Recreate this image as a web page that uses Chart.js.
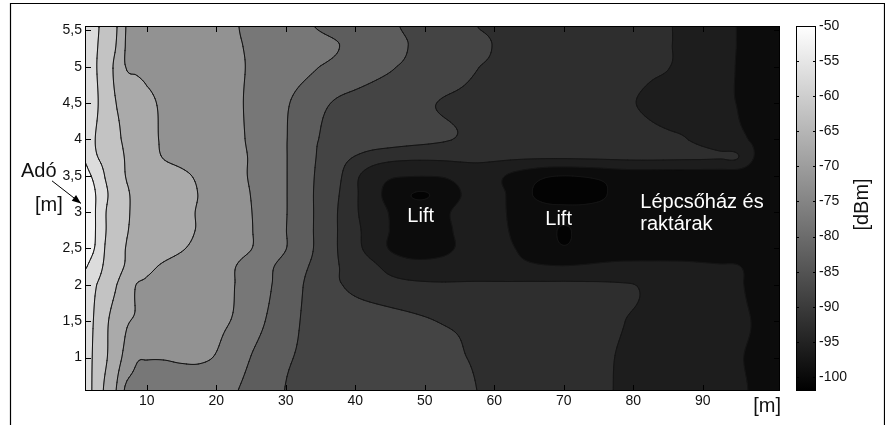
<!DOCTYPE html>
<html><head><meta charset="utf-8">
<script src="https://cdn.jsdelivr.net/npm/chart.js@4.4.0/dist/chart.umd.min.js"></script>
<style>html,body{margin:0;padding:0;background:#fff;}canvas{display:block;}</style>
</head><body>
<canvas id="c" width="885" height="425"></canvas>
<script>
// ---------- DATA ----------
// grid x positions [m] and y positions [m]
const xs = [1, 2.5, 4, 5.5, 7, 8.5, 10, 12.5, 15, 17.5, 20, 22.5, 25, 27.5, 30, 32.5, 35, 37.5, 40, 42.5, 45, 47.5, 50, 52.5, 55, 57.5, 60, 62.5, 65, 67.5, 70, 72.5, 75, 77.5, 80, 82.5, 85, 87.5, 90, 92.5, 95, 97.5, 101];
const ys = [0.54, 1, 1.5, 2, 2.25, 2.5, 2.75, 3, 3.25, 3.5, 3.75, 4, 4.5, 5, 5.3, 5.56];
// received power [dBm], one row per y
const r054 = [-52.5,-56.2,-60.8,-64.7,-70.8,-71.2,-71.5,-72.0,-72.5,-73.2,-73.9,-74.7,-76.2,-78.3,-80.1,-80.5,-81.0,-81.4,-81.9,-82.3,-82.8,-83.2,-83.7,-84.1,-84.6,-85.0,-85.6,-86.3,-86.9,-87.6,-88.2,-88.8,-89.5,-90.1,-90.8,-91.4,-92.1,-92.7,-93.3,-94.0,-94.6,-95.3,-96.2];
const r100 = [-52.5,-55.9,-59.3,-62.7,-66.5,-69.5,-69.8,-69.8,-69.5,-69.4,-70.3,-72.6,-75.1,-77.3,-79.5,-80.4,-80.9,-81.4,-81.8,-82.3,-82.8,-83.3,-83.8,-84.3,-84.8,-85.3,-85.9,-86.5,-87.1,-87.7,-88.3,-88.8,-89.4,-90.05,-90.7,-91.4,-92.1,-92.8,-93.4,-94.1,-94.8,-95.4,-96.5];
const r150 = [-52.0,-55.5,-59.0,-61.9,-64.5,-65.4,-65.9,-66.7,-67.6,-68.4,-69.3,-70.3,-72.9,-75.5,-78.1,-80.3,-80.8,-81.4,-82.1,-82.7,-83.4,-84.0,-84.6,-85.2,-85.6,-86.1,-86.5,-87.0,-87.5,-87.9,-88.4,-88.8,-89.3,-89.7,-90.3,-91.0,-91.7,-92.4,-93.1,-93.8,-94.5,-95.2,-96.5];
const r200 = [-51.5,-54.5,-57.1,-59.7,-62.5,-65.1,-65.6,-66.5,-67.4,-68.2,-69.1,-69.9,-72.2,-74.5,-77.2,-80.0,-82.3,-84.5,-86.2,-87.4,-88.2,-88.8,-89.2,-89.4,-89.4,-89.4,-89.4,-89.3,-89.2,-89.2,-89.2,-89.3,-89.4,-89.6,-89.9,-90.8,-91.6,-92.4,-93.1,-93.9,-94.6,-95.8,-97.0];
const r225 = [-49.5,-52.2,-55.8,-58.3,-60.4,-62.2,-64.0,-65.6,-66.7,-67.7,-68.7,-69.8,-71.8,-74.2,-76.7,-79.3,-81.7,-84.8,-86.9,-89.0,-91.5,-93.0,-93.3,-93.0,-92.5,-92.2,-92.5,-93.5,-94.2,-94.6,-94.7,-94.5,-94.2,-94.0,-94.0,-94.1,-94.2,-94.3,-94.5,-94.7,-94.8,-96.3,-97.5];
const r250 = [-48.0,-50.1,-55.2,-57.7,-60.1,-60.9,-61.8,-63.3,-64.7,-66.0,-67.3,-68.6,-69.9,-72.4,-74.9,-78.1,-81.4,-85.1,-88.6,-92.0,-95.3,-96.8,-97.0,-96.2,-94.5,-93.5,-93.6,-94.7,-96.3,-98.0,-99.6,-98.3,-97.3,-96.8,-96.6,-96.5,-96.5,-96.6,-96.8,-97.1,-97.5,-98.0,-98.5];
const r275 = [-47.5,-49.7,-54.7,-57.3,-59.7,-60.6,-61.4,-62.7,-64.0,-65.3,-66.8,-68.3,-69.8,-72.3,-74.9,-78.1,-81.4,-85.1,-88.9,-92.1,-95.1,-97.0,-97.2,-96.3,-94.2,-93.3,-93.7,-95.3,-97.0,-98.8,-100.4,-99.0,-97.8,-97.3,-97.2,-97.2,-97.3,-97.4,-97.6,-97.8,-98.1,-98.4,-98.8];
const r300 = [-47.3,-49.7,-54.7,-57.2,-59.5,-60.6,-61.4,-62.7,-64.0,-65.3,-66.8,-68.4,-69.9,-72.3,-74.8,-78.0,-81.4,-85.1,-89.4,-92.4,-95.3,-97.5,-97.5,-96.0,-94.0,-93.3,-93.8,-95.6,-97.5,-98.5,-98.8,-98.6,-98.2,-97.8,-97.5,-97.4,-97.4,-97.5,-97.7,-98.0,-98.2,-98.5,-98.8];
const r325 = [-47.5,-49.7,-54.1,-57.0,-59.5,-60.6,-61.3,-62.6,-63.8,-65.1,-66.7,-68.4,-70.1,-72.5,-74.8,-78.0,-81.4,-84.7,-89.3,-93.3,-96.5,-99.6,-100.3,-98.3,-95.2,-93.5,-94.0,-95.8,-99.5,-101.5,-102.0,-102.0,-101.0,-99.0,-98.0,-97.5,-97.5,-97.6,-97.8,-98.0,-98.3,-98.6,-99.0];
const r350 = [-48.5,-51.1,-55.2,-57.7,-60.1,-60.8,-61.6,-62.9,-64.2,-65.6,-67.1,-68.7,-70.4,-72.6,-74.8,-78.0,-81.1,-84.0,-89.0,-92.5,-94.3,-94.7,-94.8,-94.6,-93.5,-92.8,-93.8,-95.8,-97.8,-99.5,-100.0,-99.7,-99.0,-98.0,-97.5,-97.5,-97.5,-97.5,-97.6,-97.7,-97.8,-98.2,-98.6];
const r375 = [-50.3,-54.2,-56.3,-58.3,-60.3,-61.7,-63.2,-65.2,-66.2,-67.2,-68.2,-69.2,-70.3,-72.6,-74.8,-77.9,-80.7,-83.1,-85.4,-87.5,-88.6,-89.1,-89.2,-89.1,-88.9,-88.8,-89.0,-89.3,-89.5,-89.6,-89.6,-89.5,-89.4,-89.3,-89.2,-89.2,-89.3,-89.4,-89.5,-89.7,-89.8,-95.3,-97.0];
const r400 = [-52.8,-54.9,-56.9,-59.0,-60.8,-62.3,-63.8,-65.5,-66.4,-67.4,-68.3,-69.3,-70.5,-72.7,-74.8,-77.7,-80.2,-80.8,-81.4,-82.1,-82.7,-83.4,-84.0,-84.6,-85.2,-85.5,-85.9,-86.3,-86.6,-87.0,-87.4,-87.7,-88.1,-88.4,-88.8,-89.2,-89.5,-89.9,-91.1,-92.6,-94.1,-95.6,-97.0];
const r450 = [-51.0,-54.0,-57.0,-59.9,-61.4,-62.8,-64.2,-65.6,-66.6,-67.5,-68.4,-69.4,-70.6,-72.6,-74.5,-76.8,-79.1,-80.5,-81.3,-82.1,-82.9,-83.7,-84.5,-85.2,-85.6,-86.0,-86.4,-86.9,-87.3,-87.7,-88.2,-88.6,-89.0,-89.4,-89.9,-90.6,-91.5,-92.4,-93.3,-94.2,-95.1,-96.3,-97.5];
const r500 = [-51.5,-54.4,-57.5,-60.9,-65.1,-65.5,-65.9,-66.6,-67.3,-68.0,-68.8,-69.5,-70.3,-71.5,-72.6,-73.8,-75.1,-76.2,-77.3,-78.5,-79.6,-80.7,-81.8,-82.8,-83.8,-84.9,-85.4,-85.9,-86.3,-86.8,-87.2,-87.7,-88.1,-88.6,-89.0,-89.5,-89.9,-91.1,-92.4,-93.7,-95.2,-96.5,-97.5];
const r530 = [-51.5,-54.2,-56.9,-59.8,-65.25,-65.7,-66.1,-66.8,-67.5,-68.2,-68.9,-69.6,-70.4,-71.3,-72.2,-73.1,-74.0,-74.9,-76.1,-77.4,-78.7,-79.95,-81.0,-82.1,-83.1,-84.2,-85.1,-85.6,-86.0,-86.5,-87.0,-87.5,-87.9,-88.4,-88.9,-89.3,-89.8,-90.8,-92.2,-93.6,-95.1,-96.5,-97.5];
const r556 = [-51.5,-53.9,-56.6,-59.3,-65.1,-65.5,-66.0,-66.7,-67.5,-68.2,-69.0,-69.7,-70.8,-71.9,-73.1,-74.3,-75.4,-76.4,-77.4,-78.4,-79.4,-80.5,-81.6,-82.7,-83.9,-85.0,-85.4,-85.9,-86.3,-86.7,-87.2,-87.6,-88.1,-88.5,-88.9,-89.4,-89.8,-90.8,-92.2,-93.7,-95.1,-96.5,-97.5];
// contour levels [dBm]
const levels = [-100, -95, -90, -85, -80, -75, -70, -65, -60, -55, -50];
// tick labels
const xTicks = [10, 20, 30, 40, 50, 60, 70, 80, 90];
const yTicks = [1, 1.5, 2, 2.5, 3, 3.5, 4, 4.5, 5, 5.5];
const cbTicks = [-50, -55, -60, -65, -70, -75, -80, -85, -90, -95, -100];
const cbRange = [-102, -50];
// annotation texts
const liftLabel = 'Lift';
const stairLabel = ['Lépcsőház és', 'raktárak'];
const txLabel = ['Adó', '[m]'];

const grid = [r054, r100, r150, r200, r225, r250, r275, r300, r325, r350, r375, r400, r450, r500, r530, r556];

// ---------- STYLE ----------
const FONT = "'Liberation Sans', Arial, Helvetica, sans-serif";
const bandColors = ['#030303','#0c0c0c','#1d1d1d','#2e2e2e','#444444','#5d5d5d','#777777','#929292','#aaaaaa','#c3c3c3','#dcdcdc','#f4f4f4'];
const bandRGB = bandColors.map(h => [parseInt(h.slice(1,3),16), parseInt(h.slice(3,5),16), parseInt(h.slice(5,7),16)]);

function fracIndex(arr, v) {
  const n = arr.length;
  if (v <= arr[0]) return 0;
  if (v >= arr[n - 1]) return n - 1;
  let i = 0;
  while (v > arr[i + 1]) i++;
  return i + (v - arr[i]) / (arr[i + 1] - arr[i]);
}
function crw(t) {
  const t2 = t * t, t3 = t2 * t;
  return [(-t3 + 2 * t2 - t) / 2, (3 * t3 - 5 * t2 + 2) / 2, (-3 * t3 + 4 * t2 + t) / 2, (t3 - t2) / 2];
}
function sample(fx, fy) {
  const nx = xs.length, ny = ys.length;
  let ix = Math.floor(fx), iy = Math.floor(fy);
  if (ix >= nx - 1) ix = nx - 2;
  if (iy >= ny - 1) iy = ny - 2;
  const wx = crw(fx - ix), wy = crw(fy - iy);
  let s = 0;
  for (let j = 0; j < 4; j++) {
    const row = grid[Math.min(ny - 1, Math.max(0, iy - 1 + j))];
    let rs = 0;
    for (let i = 0; i < 4; i++) rs += wx[i] * row[Math.min(nx - 1, Math.max(0, ix - 1 + i))];
    s += wy[j] * rs;
  }
  return s;
}
function bandOf(z) { let k = 0; while (k < levels.length && z >= levels[k]) k++; return k; }

const contourPlugin = {
  id: 'contour',
  beforeDatasetsDraw(chart) {
    const { ctx, chartArea: a, scales: { x, y } } = chart;
    const W = Math.round(a.right - a.left), H = Math.round(a.bottom - a.top);
    const off = document.createElement('canvas');
    off.width = W; off.height = H;
    const octx = off.getContext('2d');
    const img = octx.createImageData(W, H);
    // 2x2 supersampled band fill
    const fxc = new Float64Array(2 * W), fyr = new Float64Array(2 * H);
    for (let i = 0; i < 2 * W; i++) fxc[i] = fracIndex(xs, x.getValueForPixel(a.left + i / 2 + 0.25));
    for (let j = 0; j < 2 * H; j++) fyr[j] = fracIndex(ys, y.getValueForPixel(a.top + j / 2 + 0.25));
    const bands = new Uint8Array(4 * W * H);
    for (let j = 0; j < 2 * H; j++) for (let i = 0; i < 2 * W; i++) bands[j * 2 * W + i] = bandOf(sample(fxc[i], fyr[j]));
    const d = img.data;
    for (let j = 0; j < H; j++) {
      for (let i = 0; i < W; i++) {
        let r = 0, g = 0, b = 0;
        for (let sj = 0; sj < 2; sj++) for (let si = 0; si < 2; si++) {
          const c = bandRGB[bands[(2 * j + sj) * 2 * W + 2 * i + si]];
          r += c[0]; g += c[1]; b += c[2];
        }
        const p = (j * W + i) * 4;
        d[p] = r / 4; d[p + 1] = g / 4; d[p + 2] = b / 4; d[p + 3] = 255;
      }
    }
    octx.putImageData(img, 0, 0);
    ctx.drawImage(off, a.left, a.top);

    // contour lines (marching squares)
    const step = 2;
    const NX = Math.ceil(W / step), NY = Math.ceil(H / step);
    const px = [], py = [], fxn = [], fyn = [];
    for (let i = 0; i <= NX; i++) { const p = Math.min(a.left + i * step, a.right); px.push(p); fxn.push(fracIndex(xs, x.getValueForPixel(p))); }
    for (let j = 0; j <= NY; j++) { const p = Math.min(a.top + j * step, a.bottom); py.push(p); fyn.push(fracIndex(ys, y.getValueForPixel(p))); }
    const V = [];
    for (let j = 0; j <= NY; j++) { const r = new Float64Array(NX + 1); for (let i = 0; i <= NX; i++) r[i] = sample(fxn[i], fyn[j]); V.push(r); }
    ctx.save();
    ctx.beginPath(); ctx.rect(a.left, a.top, W, H); ctx.clip();
    ctx.strokeStyle = '#141414'; ctx.lineWidth = 1; ctx.lineCap = 'round'; ctx.lineJoin = 'round';
    ctx.beginPath();
    for (const L of levels) {
      for (let j = 0; j < NY; j++) for (let i = 0; i < NX; i++) {
        const v0 = V[j][i], v1 = V[j][i + 1], v2 = V[j + 1][i + 1], v3 = V[j + 1][i];
        const b0 = v0 >= L, b1 = v1 >= L, b2 = v2 >= L, b3 = v3 >= L;
        if (b0 === b1 && b1 === b2 && b2 === b3) continue;
        const pts = [];
        if (b0 !== b1) { const t = (L - v0) / (v1 - v0); pts.push([px[i] + t * (px[i + 1] - px[i]), py[j]]); }
        if (b1 !== b2) { const t = (L - v1) / (v2 - v1); pts.push([px[i + 1], py[j] + t * (py[j + 1] - py[j])]); }
        if (b2 !== b3) { const t = (L - v3) / (v2 - v3); pts.push([px[i] + t * (px[i + 1] - px[i]), py[j + 1]]); }
        if (b3 !== b0) { const t = (L - v0) / (v3 - v0); pts.push([px[i], py[j] + t * (py[j + 1] - py[j])]); }
        for (let k = 0; k + 1 < pts.length; k += 2) { ctx.moveTo(pts[k][0], pts[k][1]); ctx.lineTo(pts[k + 1][0], pts[k + 1][1]); }
      }
    }
    ctx.stroke();
    ctx.restore();
  }
};

const decorPlugin = {
  id: 'decor',
  afterDraw(chart) {
    const { ctx, chartArea: a, scales: { x, y, cb } } = chart;
    ctx.save();
    ctx.strokeStyle = '#000'; ctx.lineWidth = 1;
    // plot frame
    ctx.strokeRect(a.left + 0.5, a.top + 0.5, a.right - a.left - 1, a.bottom - a.top - 1);
    // inward ticks on all four sides
    ctx.beginPath();
    for (const v of xTicks) {
      const p = Math.round(x.getPixelForValue(v)) + 0.5;
      ctx.moveTo(p, a.bottom); ctx.lineTo(p, a.bottom - 6);
      ctx.moveTo(p, a.top); ctx.lineTo(p, a.top + 6);
    }
    for (const v of yTicks) {
      const p = Math.round(y.getPixelForValue(v)) + 0.5;
      ctx.moveTo(a.left, p); ctx.lineTo(a.left + 6, p);
      ctx.moveTo(a.right, p); ctx.lineTo(a.right - 6, p);
    }
    ctx.stroke();

    // colorbar
    const c0 = a.right + 16, c1 = a.right + 36;
    const t0 = cb.getPixelForValue(cbRange[1]), t1 = cb.getPixelForValue(cbRange[0]);
    const g = ctx.createLinearGradient(0, t0, 0, t1);
    g.addColorStop(0, '#ffffff'); g.addColorStop(1, '#000000');
    ctx.fillStyle = g;
    ctx.fillRect(c0, t0, c1 - c0, t1 - t0);
    ctx.strokeRect(c0 + 0.5, t0 + 0.5, c1 - c0 - 1, t1 - t0 - 1);
    ctx.beginPath();
    for (const v of cbTicks) {
      const p = Math.round(cb.getPixelForValue(v)) + 0.5;
      ctx.moveTo(c0, p); ctx.lineTo(c0 + 3, p);
      ctx.moveTo(c1, p); ctx.lineTo(c1 - 3, p);
    }
    ctx.stroke();

    // [dBm] title
    ctx.fillStyle = '#111';
    ctx.font = '20px ' + FONT;
    ctx.textAlign = 'center'; ctx.textBaseline = 'middle';
    ctx.save();
    ctx.translate(a.right + 82, (a.top + a.bottom) / 2 - 4);
    ctx.rotate(-Math.PI / 2);
    ctx.fillText('[dBm]', 0, 0);
    ctx.restore();

    // x axis unit
    ctx.textAlign = 'right'; ctx.textBaseline = 'alphabetic';
    ctx.fillText('[m]', a.right + 1, a.bottom + 21);

    // transmitter label + arrow
    ctx.font = '20px ' + FONT;
    ctx.textAlign = 'left';
    ctx.fillText(txLabel[0], a.left - 64, y.getPixelForValue(3.48));
    ctx.fillText(txLabel[1], a.left - 50, y.getPixelForValue(3.01));
    const ax0 = a.left - 33, ay0 = y.getPixelForValue(3.43);
    const ax1 = a.left - 4, ay1 = y.getPixelForValue(3.12);
    ctx.beginPath(); ctx.moveTo(ax0, ay0); ctx.lineTo(ax1, ay1); ctx.lineWidth = 1; ctx.stroke();
    const ang = Math.atan2(ay1 - ay0, ax1 - ax0);
    ctx.beginPath();
    ctx.moveTo(ax1, ay1);
    ctx.lineTo(ax1 - 9 * Math.cos(ang) + 3.5 * Math.sin(ang), ay1 - 9 * Math.sin(ang) - 3.5 * Math.cos(ang));
    ctx.lineTo(ax1 - 9 * Math.cos(ang) - 3.5 * Math.sin(ang), ay1 - 9 * Math.sin(ang) + 3.5 * Math.cos(ang));
    ctx.closePath(); ctx.fillStyle = '#000'; ctx.fill();

    // white labels in the plot
    ctx.fillStyle = '#ffffff';
    ctx.font = '20px ' + FONT;
    ctx.textAlign = 'center'; ctx.textBaseline = 'middle';
    ctx.fillText(liftLabel, x.getPixelForValue(49.4), y.getPixelForValue(2.94));
    ctx.fillText(liftLabel, x.getPixelForValue(69.25), y.getPixelForValue(2.9));
    ctx.textAlign = 'left'; ctx.textBaseline = 'alphabetic';
    ctx.fillText(stairLabel[0], x.getPixelForValue(81.0), y.getPixelForValue(3.054));
    ctx.fillText(stairLabel[1], x.getPixelForValue(81.0), y.getPixelForValue(2.751));

    // outer figure frame
    ctx.strokeStyle = '#000'; ctx.lineWidth = 1.2;
    ctx.beginPath();
    ctx.moveTo(10.5, 425); ctx.lineTo(10.5, 3.5); ctx.lineTo(884.5, 3.5); ctx.lineTo(884.5, 425);
    ctx.stroke();
    ctx.restore();
  }
};

const tickFont = { family: FONT, size: 14 };
const noPad = s => { s.paddingTop = 0; s.paddingBottom = 0; s.paddingLeft = 0; s.paddingRight = 0; };
new Chart(document.getElementById('c'), {
  type: 'scatter',
  data: { datasets: [{ data: [], pointRadius: 0 }] },
  options: {
    responsive: false, animation: false, devicePixelRatio: 1,
    layout: { autoPadding: false, padding: { top: 26, left: 0, right: 0, bottom: 0 } },
    plugins: { legend: { display: false }, tooltip: { enabled: false } },
    scales: {
      x: {
        type: 'linear', position: 'bottom', min: 1.1, max: 101.1,
        afterBuildTicks: s => { s.ticks = xTicks.map(v => ({ value: v })); },
        afterFit: s => { s.height = 34; noPad(s); },
        grid: { display: false, drawTicks: false, tickLength: 0 }, border: { display: false },
        ticks: { autoSkip: false, maxRotation: 0, padding: 2, color: '#111', font: tickFont }
      },
      y: {
        type: 'linear', position: 'left', min: 0.54, max: 5.56,
        afterBuildTicks: s => { s.ticks = yTicks.map(v => ({ value: v })); },
        afterFit: s => { s.width = 85; noPad(s); },
        grid: { display: false, drawTicks: false, tickLength: 0 }, border: { display: false },
        ticks: { autoSkip: false, padding: 3, color: '#111', font: tickFont, callback: v => String(v).replace('.', ',') }
      },
      cb: {
        type: 'linear', position: 'right', min: cbRange[0], max: cbRange[1],
        afterBuildTicks: s => { s.ticks = cbTicks.map(v => ({ value: v })); },
        afterFit: s => { s.width = 105; noPad(s); },
        grid: { display: false, drawTicks: false, tickLength: 0 }, border: { display: false },
        ticks: { autoSkip: false, padding: 39, color: '#111', font: tickFont }
      }
    }
  },
  plugins: [contourPlugin, decorPlugin]
});
</script>
</body></html>
